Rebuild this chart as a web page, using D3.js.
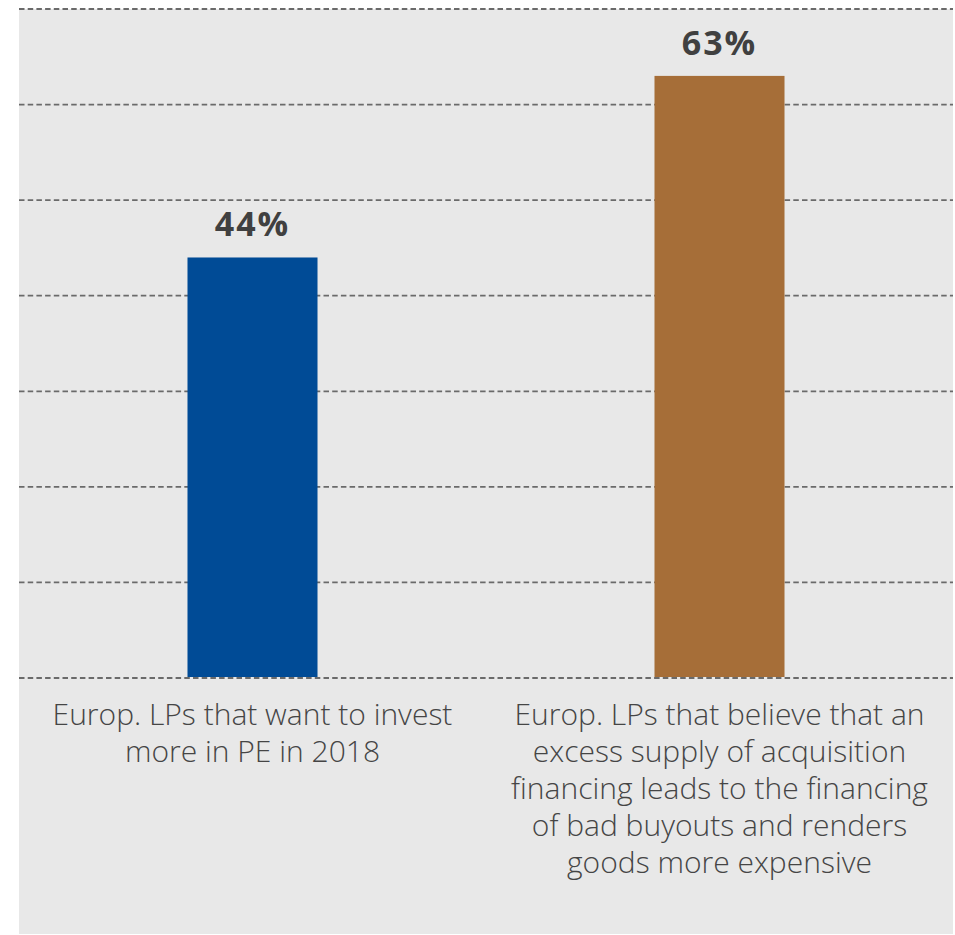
<!DOCTYPE html>
<html>
<head>
<meta charset="utf-8">
<script src="https://cdn.jsdelivr.net/npm/d3@7"></script>
<style>
  body { margin: 0; background: #fff; }
  svg { display: block; }
</style>
</head>
<body>
<script>
var w = 955;
var h = 935;

// data
var categories = ["a", "b"];
var values = [44, 63];
var colors = ["#004b96", "#a66e38"];
var catLabels = [
  ["Europ. LPs that want to invest", "more in PE in 2018"],
  ["Europ. LPs that believe that an", "excess supply of acquisition",
   "financing leads to the financing", "of bad buyouts and renders",
   "goods more expensive"]
];
var gridTicks = [0, 10, 20, 30, 40, 50, 60, 70];

var padL = 19, padR = 953, padT = 9, base = 678;

var xScale = d3.scaleBand()
  .domain(categories)
  .range([padL, padR])
  .paddingInner(0.7216)
  .paddingOuter(0.3608);

var yScale = d3.scaleLinear()
  .domain([0, 70])
  .range([base, padT]);

var svg = d3.select("body")
  .append("svg")
  .attr("width", w)
  .attr("height", h);

// grey panel
svg.append("rect")
  .attr("x", padL)
  .attr("y", padT)
  .attr("width", padR - padL)
  .attr("height", 934 - padT)
  .attr("fill", "#e8e8e8");

// dashed grid
svg.selectAll("line.grid")
  .data(gridTicks)
  .enter()
  .append("line")
  .attr("class", "grid")
  .attr("x1", padL)
  .attr("x2", padR)
  .attr("y1", function(d) { return yScale(d); })
  .attr("y2", function(d) { return yScale(d); })
  .attr("stroke", "#6a6a6a")
  .attr("stroke-width", 1.8)
  .attr("stroke-dasharray", "5.5,3.2");

// bars
svg.selectAll("rect.bar")
  .data(values)
  .enter()
  .append("rect")
  .attr("class", "bar")
  .attr("x", function(d, i) { return xScale(categories[i]); })
  .attr("y", function(d) { return yScale(d); })
  .attr("width", xScale.bandwidth())
  .attr("height", function(d) { return yScale(0) - yScale(d) - 1; })
  .attr("fill", function(d, i) { return colors[i]; });

// value labels
svg.selectAll("text.val")
  .data(values)
  .enter()
  .append("text")
  .attr("class", "val")
  .attr("x", function(d, i) { return xScale(categories[i]) + xScale.bandwidth() / 2; })
  .attr("y", function(d) { return yScale(d) - 21; })
  .attr("text-anchor", "middle")
  .attr("font-family", "'Open Sans', sans-serif")
  .attr("font-weight", 700)
  .attr("font-size", 34)
  .attr("letter-spacing", 2)
  .attr("fill", "#404040")
  .text(function(d) { return d + "%"; });

// category labels
var lab = svg.selectAll("text.cat")
  .data(catLabels)
  .enter()
  .append("text")
  .attr("class", "cat")
  .attr("text-anchor", "middle")
  .attr("font-family", "'Open Sans', sans-serif")
  .attr("font-weight", 300)
  .attr("font-size", 30)
  .attr("fill", "#454545");

lab.selectAll("tspan")
  .data(function(d, i) { return d.map(function(s) { return { s: s, i: i }; }); })
  .enter()
  .append("tspan")
  .attr("x", function(d) { return xScale(categories[d.i]) + xScale.bandwidth() / 2; })
  .attr("y", function(d, j) { return 725 + j * 37; })
  .text(function(d) { return d.s; });
</script>
</body>
</html>
